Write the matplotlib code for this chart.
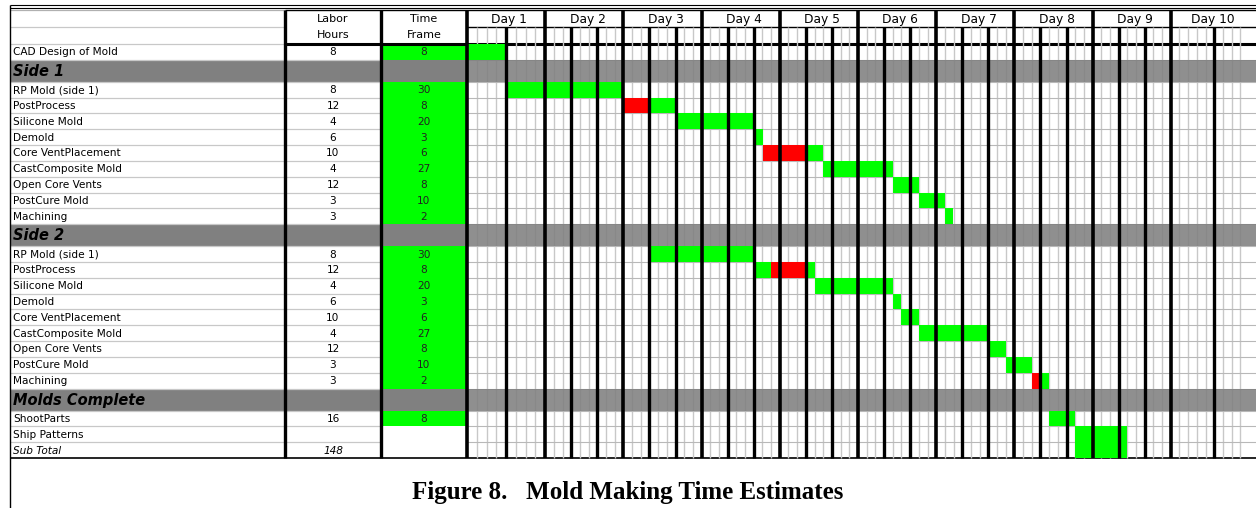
import matplotlib
matplotlib.use("Agg")
import matplotlib.pyplot as plt

# ---------------- data ----------------
task_names = ["CAD Design of Mold", "Side 1",
              "RP Mold (side 1)", "PostProcess", "Silicone Mold", "Demold",
              "Core VentPlacement", "CastComposite Mold", "Open Core Vents",
              "PostCure Mold", "Machining",
              "Side 2",
              "RP Mold (side 1)", "PostProcess", "Silicone Mold", "Demold",
              "Core VentPlacement", "CastComposite Mold", "Open Core Vents",
              "PostCure Mold", "Machining",
              "Molds Complete", "ShootParts", "Ship Patterns", "Sub Total"]
row_kind = ["task", "section"] + ["task"] * 9 + ["section"] + ["task"] * 9 + \
           ["section", "task", "task", "total"]
labor_hours = ["8", "", "8", "12", "4", "6", "10", "4", "12", "3", "3",
               "", "8", "12", "4", "6", "10", "4", "12", "3", "3",
               "", "16", "", "148"]
time_frame = ["8", "", "30", "8", "20", "3", "6", "27", "8", "10", "2",
              "", "30", "8", "20", "3", "6", "27", "8", "10", "2",
              "", "8", "", ""]
day_labels = ["Day 1", "Day 2", "Day 3", "Day 4", "Day 5",
              "Day 6", "Day 7", "Day 8", "Day 9", "Day 10"]

# schedule segments (hours from start of Day 1)
bar_row = [0, 2, 3, 3, 4, 5, 6, 6, 7, 8, 9, 10,
           12, 13, 13, 13, 14, 15, 16, 17, 18, 19, 20, 20,
           22, 23]
bar_start = [0, 12, 48, 56, 64, 88, 90.7, 104, 109.3, 130.7, 138.7, 146.7,
             56, 88, 93.3, 104, 106.7, 130.7, 133.3, 138.7, 160, 165.3, 173.3, 176,
             178.7, 186.7]
bar_end = [12, 48, 56, 64, 88, 90.7, 104, 109.3, 130.7, 138.7, 146.7, 149.3,
           88, 93.3, 104, 106.7, 130.7, 133.3, 138.7, 160, 165.3, 173.3, 176, 178.7,
           186.7, 202.7]
bar_state = ["ok", "ok", "late", "ok", "ok", "ok", "late", "ok", "ok", "ok", "ok", "ok",
             "ok", "ok", "late", "ok", "ok", "ok", "ok", "ok", "ok", "ok", "late", "ok",
             "ok", "ok"]
bar_span = [1] * 25 + [2]

# ---------------- style / layout ----------------
GREEN, RED, SECTION_GRAY = "#00ff00", "#ff0000", "#808080"
W, H = 1256, 508
X_LEFT, X_LAB, X_TIME, X_CHART = 10, 285, 381, 467
HDR_TOP, HDR_H = 10, 17
BODY_TOP = HDR_TOP + 2 * HDR_H
TABLE_BOTTOM = 458
SEC_H = 22
PX_PER_DAY = 78.2
n_sec = row_kind.count("section")
TASK_H = (TABLE_BOTTOM - BODY_TOP - n_sec * SEC_H) / (len(row_kind) - n_sec)
tops, heights = [], []
y = BODY_TOP
for k in row_kind:
    h = SEC_H if k == "section" else TASK_H
    tops.append(y)
    heights.append(h)
    y += h

# per-day sub-column widths and thick (shift) lines within each day (hours)
day_sub = [3.0] + [8 / 3] * 9
day_thick = [[12]] + [[8, 16]] * 8 + [[40 / 3]]

FONT = "DejaVu Sans"
FS = 7.6

fig = plt.figure(figsize=(W / 100, H / 100), dpi=100)
ax = fig.add_axes([0, 0, 1, 1])
ax.set_xlim(0, W)
ax.set_ylim(H, 0)
ax.axis("off")

G_LEFT = 460
h_per_px = 24 / PX_PER_DAY
axg = fig.add_axes([G_LEFT / W, 0, (W - G_LEFT) / W, 1])
x_min = (G_LEFT - X_CHART) * h_per_px
x_max = (W - X_CHART) * h_per_px
axg.set_xlim(x_min, x_max)
axg.set_ylim(H, 0)
axg.axis("off")

# ---- table part ----
for i, k in enumerate(row_kind):
    yc = tops[i] + heights[i] / 2
    if k == "section":
        ax.barh(yc, X_CHART - X_LEFT, left=X_LEFT, height=heights[i], color=SECTION_GRAY,
                linewidth=0, zorder=1)
        axg.barh(yc, x_max, left=0, height=heights[i], color=SECTION_GRAY,
                 alpha=0.88, linewidth=0, zorder=2.5)
    if time_frame[i] != "":
        ax.barh(yc, X_CHART - X_TIME, left=X_TIME, height=heights[i], color=GREEN,
                linewidth=0, zorder=1)

# row separators in the label / labor columns
for i in range(1, len(row_kind)):
    ax.hlines(tops[i], X_LEFT, X_TIME, color="#c8c8c8", lw=0.9, zorder=2)
ax.hlines([HDR_TOP + HDR_H, BODY_TOP], X_LEFT, X_LAB, color="#c8c8c8", lw=0.9, zorder=2)
ax.hlines(HDR_TOP, X_LEFT, X_LAB, color="#b0b0b0", lw=0.9, zorder=2)
ax.hlines(HDR_TOP, X_LAB, W, color="black", lw=1.0, zorder=5)
ax.hlines(HDR_TOP + HDR_H, X_CHART, W, color="black", lw=1.0, zorder=5)
ax.hlines(BODY_TOP, X_LAB, W, color="black", lw=2.2, zorder=5)
ax.hlines([5, 7.5], X_LEFT, W, color="black", lw=0.8, zorder=5)
ax.hlines(TABLE_BOTTOM, X_LEFT, W, color="black", lw=1.2, zorder=5)
ax.vlines(X_LEFT, 5, H, color="black", lw=1.0, zorder=5)
ax.vlines([X_LAB, X_TIME], HDR_TOP, TABLE_BOTTOM, color="black", lw=2.4, zorder=5)

# header text
lab_c = (X_LAB + X_TIME) / 2
time_c = (X_TIME + X_CHART) / 2
r1 = HDR_TOP + HDR_H / 2
r2 = HDR_TOP + 1.5 * HDR_H
for xc, t1, t2 in [(lab_c, "Labor", "Hours"), (time_c, "Time", "Frame")]:
    ax.text(xc, r1, t1, ha="center", va="center", fontsize=FS + 0.4, family=FONT, zorder=6)
    ax.text(xc, r2, t2, ha="center", va="center", fontsize=FS + 0.4, family=FONT, zorder=6)

for i, k in enumerate(row_kind):
    yc = tops[i] + heights[i] / 2 + 0.5
    if k == "section":
        ax.text(X_LEFT + 3, yc, task_names[i], ha="left", va="center", fontsize=10.5,
                family=FONT, fontweight="bold", fontstyle="italic", zorder=6)
        continue
    style = "italic" if k == "total" else "normal"
    ax.text(X_LEFT + 3, yc, task_names[i], ha="left", va="center", fontsize=FS,
            family=FONT, fontstyle=style, zorder=6)
    if labor_hours[i]:
        ax.text(lab_c, yc, labor_hours[i], ha="center", va="center", fontsize=FS,
                family=FONT, fontstyle=style, zorder=6)
    if time_frame[i]:
        ax.text(time_c, yc, time_frame[i], ha="center", va="center", fontsize=FS,
                family=FONT, color="#222222", zorder=6)

ax.text(W / 2, 499, "Figure 8.   Mold Making Time Estimates", ha="center",
        va="baseline", fontsize=18, family="Liberation Serif", fontweight="bold")

# ---- gantt part ----
thin_x, thick_x, day_x = [], [], []
for d in range(len(day_labels)):
    d0 = 24 * d
    day_x.append(d0)
    n = int(round(24 / day_sub[d]))
    for k in range(1, n):
        pos = k * day_sub[d]
        if any(abs(pos - t) < 1e-6 for t in day_thick[d]):
            continue
        thin_x.append(d0 + pos)
    for t in day_thick[d]:
        thick_x.append(d0 + t)

axg.vlines(thin_x, HDR_TOP + HDR_H, TABLE_BOTTOM, color="#c8c8c8", lw=1.0, zorder=2)
axg.hlines(tops[1:], 0, x_max, color="#b8b8b8", lw=0.8, zorder=2)

for r, s, e, st, sp in zip(bar_row, bar_start, bar_end, bar_state, bar_span):
    hh = sum(heights[r:r + sp])
    axg.barh(tops[r] + hh / 2, e - s, left=s, height=hh,
             color=RED if st == "late" else GREEN, linewidth=0, zorder=3)

axg.vlines(thick_x, HDR_TOP + HDR_H, TABLE_BOTTOM, color="black", lw=2.4, zorder=4)
axg.vlines(day_x, HDR_TOP, TABLE_BOTTOM, color="black", lw=2.6, zorder=4)

for d, lab in enumerate(day_labels):
    axg.text(24 * d + 13, r1 + 0.5, lab, ha="center", va="center", fontsize=8.8,
             family=FONT, zorder=6)

fig.savefig("out.png", dpi=100)
